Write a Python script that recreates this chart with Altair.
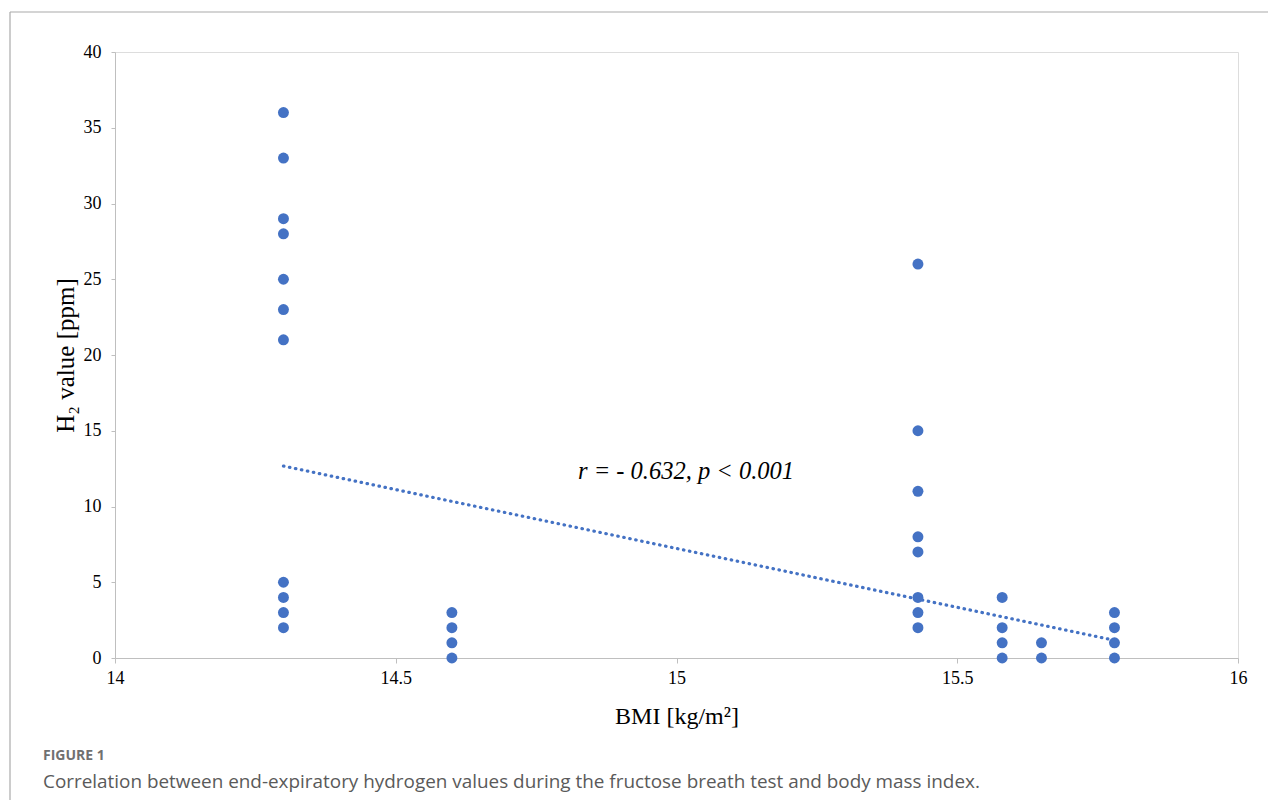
import altair as alt
import pandas as pd

# BMI groups and the H2 values observed at each BMI
bmi_groups = [14.3, 14.6, 15.43, 15.58, 15.65, 15.78]
h2_values = [
    [36, 33, 29, 28, 25, 23, 21, 5, 4, 3, 2],
    [3, 2, 1, 0],
    [26, 15, 11, 8, 7, 4, 3, 2],
    [4, 2, 1, 0],
    [1, 0],
    [3, 2, 1, 0],
]
# linear trend line as drawn in the figure (end points)
trend_x = [14.3, 15.78]
trend_y = [12.67, 1.17]
x_ticks = [14, 14.5, 15, 15.5, 16]
y_ticks = [0, 5, 10, 15, 20, 25, 30, 35, 40]
annotation = "r = - 0.632, p < 0.001"
annot_x, annot_y = 15.017, 12.3
fig_label = "FIGURE 1"
caption = "Correlation between end-expiratory hydrogen values during the fructose breath test and body mass index."

rows = []
for b, vals in zip(bmi_groups, h2_values):
    for v in vals:
        rows.append({"bmi": b, "h2": v})
df = pd.DataFrame(rows)
tdf = pd.DataFrame({"bmi": trend_x, "h2": trend_y})

BLUE = "#4472C4"
W, H = 1123, 606

xs = alt.Scale(domain=[14, 16], nice=False, zero=False)
ys = alt.Scale(domain=[0, 40], nice=False)

xaxis = alt.Axis(values=x_ticks, format="~g", title="BMI [kg/m²]", grid=False, domainColor="#bfbfbf",
                 tickColor="#bfbfbf", tickSize=5, labelFont="Liberation Serif", labelFontSize=18,
                 labelColor="#000000", labelPadding=6, titleFont="Liberation Serif",
                 titleFontSize=24, titleFontWeight="normal", titleColor="#000000",
                 titleX=W / 2, titleY=58, titleBaseline="middle", titleAlign="center",
                 labelFlush=False)
yaxis = alt.Axis(values=y_ticks, format="~g", title="H₂ value [ppm]", grid=False, domainColor="#bfbfbf",
                 tickColor="#bfbfbf", tickSize=4, labelFont="Liberation Serif", labelFontSize=18,
                 labelColor="#000000", labelPadding=10, titleFont="Liberation Serif",
                 titleFontSize=25, titleFontWeight="normal", titleColor="#000000",
                 titleX=-50, titleY=H / 2, titleBaseline="middle", titleAlign="center",
                 titleAngle=270)

points = alt.Chart(df).mark_circle(size=120, color=BLUE, opacity=1).encode(
    x=alt.X("bmi:Q", scale=xs, axis=xaxis),
    y=alt.Y("h2:Q", scale=ys, axis=yaxis),
)

trend = alt.Chart(tdf).mark_line(
    color=BLUE, strokeDash=[0.5, 5.6], strokeWidth=3.2, strokeCap="round"
).encode(x=alt.X("bmi:Q", scale=xs), y=alt.Y("h2:Q", scale=ys))

ann = alt.Chart(pd.DataFrame({"x": [annot_x], "y": [annot_y], "t": [annotation]})).mark_text(
    font="Liberation Serif", fontSize=24.5, fontStyle="italic", color="#000000",
    align="center", baseline="middle"
).encode(x=alt.X("x:Q", scale=xs), y=alt.Y("y:Q", scale=ys), text="t:N")

lab = alt.Chart(pd.DataFrame({"t": [fig_label]})).mark_text(
    font="Open Sans", fontSize=14, fontWeight="bold", color="#707070", align="left", baseline="middle"
).encode(x=alt.value(-72), y=alt.value(704), text="t:N")

cap = alt.Chart(pd.DataFrame({"t": [caption]})).mark_text(
    font="Open Sans", fontSize=18.9, color="#5a5a5a", align="left", baseline="middle"
).encode(x=alt.value(-72), y=alt.value(730), text="t:N")

frame_top = alt.Chart(pd.DataFrame({"a": [0]})).mark_rule(color="#aaaaaa", strokeWidth=1.2).encode(
    x=alt.value(-105), x2=alt.value(1300), y=alt.value(-40)
)
frame_left = alt.Chart(pd.DataFrame({"a": [0]})).mark_rule(color="#aaaaaa", strokeWidth=1.2).encode(
    x=alt.value(-105), y=alt.value(-40), y2=alt.value(800)
)

chart = alt.layer(frame_top, frame_left, trend, points, ann, lab, cap).properties(
    width=W, height=H,
    autosize=alt.AutoSizeParams(type="none"),
    padding={"left": 107, "top": 44, "right": 30, "bottom": 142},
).configure_view(stroke=None).configure(background="white")

chart.save("out.html", embed_options={"renderer": "svg", "actions": False})
